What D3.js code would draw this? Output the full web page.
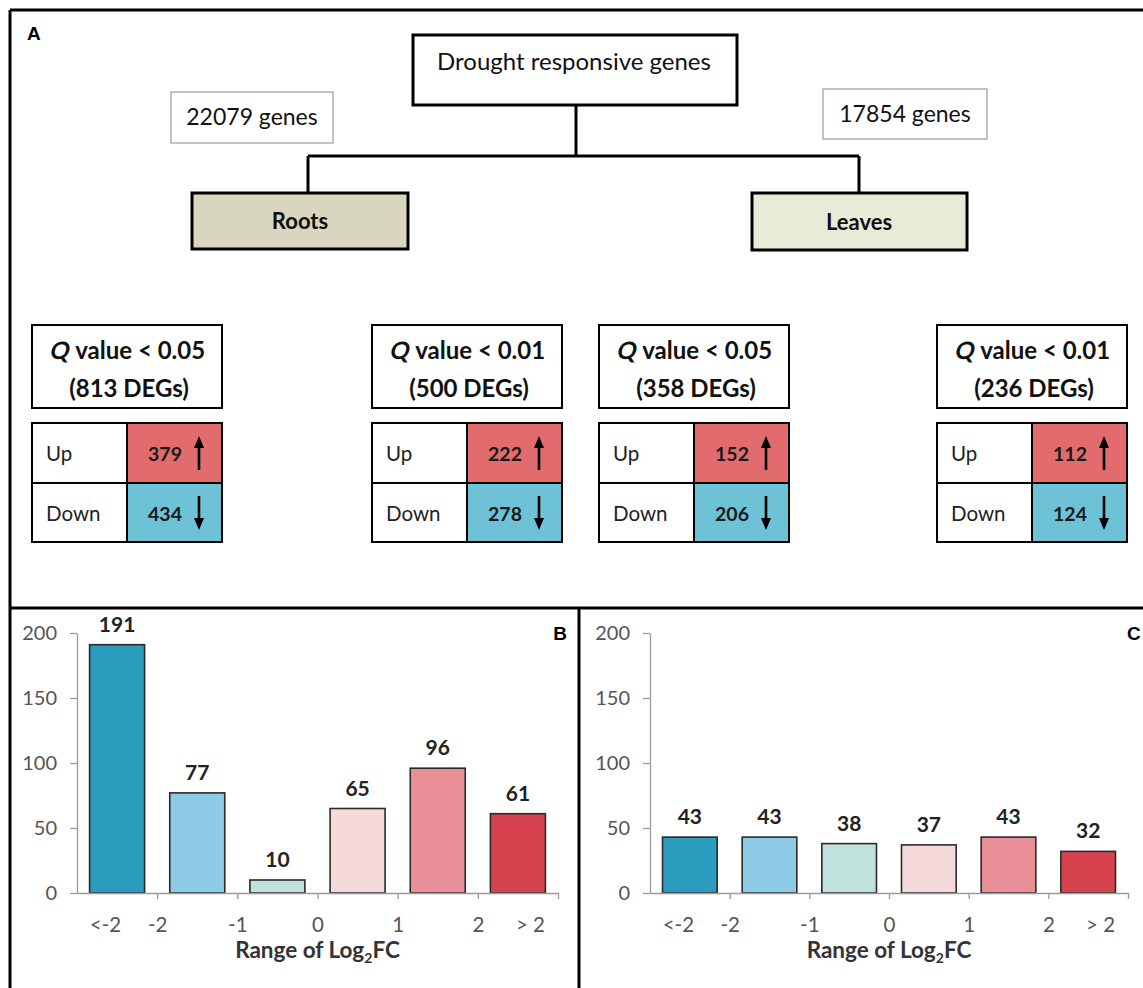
<!DOCTYPE html>
<html>
<head>
<meta charset="utf-8">
<script src="https://cdn.jsdelivr.net/npm/d3@7"></script>
<style>
  html, body { margin: 0; padding: 0; background: #fff; }
  svg { display: block; font-family: Lato, "Open Sans", sans-serif; }
</style>
</head>
<body>
<script>
// ---------------- DATA ----------------
const rootGenes = "22079 genes";
const leafGenes = "17854 genes";
const rootLabel = "Roots";
const leafLabel = "Leaves";
const topLabel = "Drought responsive genes";

const qThresholds = ["0.05", "0.01", "0.05", "0.01"];
const degTotals = [813, 500, 358, 236];
const upCounts = [379, 222, 152, 112];
const downCounts = [434, 278, 206, 124];

const binCategories = ["<-2", "-2~-1", "-1~0", "0~1", "1~2", ">2"];
const rootBinCounts = [191, 77, 10, 65, 96, 61];
const leafBinCounts = [43, 43, 38, 37, 43, 32];
const yTickValues = [0, 50, 100, 150, 200];
const xBoundaryTicks = [-2, -1, 0, 1, 2, 3];
const xTickLabels = ["<-2", "-2", "-1", "0", "1", "2", "> 2"];
const xTickLabelPos = [-2.65, -2, -1, 0, 1, 2, 2.65];
const binColors = ["#2b9cbe", "#8ecbe6", "#c0e2dd", "#f6d9da", "#e98f98", "#d6434f"];

// ---------------- LAYOUT ----------------
const W = 1143, H = 988;
const svg = d3.select("body").append("svg").attr("width", W).attr("height", H);

// frame
const frame = d3.path();
frame.moveTo(10, 10); frame.lineTo(1170, 10);
frame.moveTo(10, 10); frame.lineTo(10, 1010);
frame.moveTo(10, 608); frame.lineTo(1170, 608);
frame.moveTo(579, 608); frame.lineTo(579, 1010);
svg.append("path").attr("d", frame.toString()).attr("stroke", "#000").attr("stroke-width", 3).attr("fill", "none");

const letter = (t, x, y, anchor) => svg.append("text").attr("x", x).attr("y", y)
  .attr("text-anchor", anchor || "start")
  .style("font-family", "'Liberation Sans', Arial, sans-serif").style("font-weight", "bold")
  .style("font-size", "19px").attr("fill", "#000").text(t);
letter("A", 27, 40);

// ---------------- TREE ----------------
const tree = svg.append("g");
const conn = d3.path();
conn.moveTo(576, 105); conn.lineTo(576, 156);
conn.moveTo(308, 156); conn.lineTo(859, 156);
conn.moveTo(308, 156); conn.lineTo(308, 194);
conn.moveTo(859, 156); conn.lineTo(859, 194);
tree.append("path").attr("d", conn.toString()).attr("stroke", "#000").attr("stroke-width", 3).attr("fill", "none");

tree.append("rect").attr("x", 413).attr("y", 35).attr("width", 324).attr("height", 70)
  .attr("fill", "#fff").attr("stroke", "#000").attr("stroke-width", 3);
tree.append("text").attr("x", 574).attr("y", 70).attr("text-anchor", "middle")
  .style("font-size", "24px").attr("fill", "#111").text(topLabel);

tree.append("rect").attr("x", 171).attr("y", 92).attr("width", 162).attr("height", 51)
  .attr("fill", "#fff").attr("stroke", "#888").attr("stroke-width", 1);
tree.append("text").attr("x", 252).attr("y", 125).attr("text-anchor", "middle")
  .style("font-size", "23px").attr("fill", "#111").text(rootGenes);

tree.append("rect").attr("x", 823).attr("y", 89).attr("width", 164).attr("height", 50)
  .attr("fill", "#fff").attr("stroke", "#888").attr("stroke-width", 1);
tree.append("text").attr("x", 905).attr("y", 122).attr("text-anchor", "middle")
  .style("font-size", "23px").attr("fill", "#111").text(leafGenes);

tree.append("rect").attr("x", 192).attr("y", 193).attr("width", 216).attr("height", 56)
  .attr("fill", "#d9d6bf").attr("stroke", "#000").attr("stroke-width", 3);
tree.append("text").attr("x", 300).attr("y", 229).attr("text-anchor", "middle")
  .style("font-size", "22px").style("font-weight", "bold").attr("fill", "#111").text(rootLabel);

tree.append("rect").attr("x", 752).attr("y", 193).attr("width", 215).attr("height", 57)
  .attr("fill", "#e8ebd7").attr("stroke", "#000").attr("stroke-width", 3);
tree.append("text").attr("x", 859).attr("y", 230).attr("text-anchor", "middle")
  .style("font-size", "22px").style("font-weight", "bold").attr("fill", "#111").text(leafLabel);

// ---------------- Q PANELS ----------------
const qX = d3.scaleOrdinal().domain(d3.range(4)).range([32, 372, 599, 937]);
const boxW = 190, colW = 95;
degTotals.forEach((tot, i) => {
  const x = qX(i);
  const g = svg.append("g");
  g.append("rect").attr("x", x).attr("y", 325).attr("width", boxW).attr("height", 83)
    .attr("fill", "#fff").attr("stroke", "#000").attr("stroke-width", 2);
  // line 1: italic Q + rest, centred as a group
  const line1 = g.append("g");
  const qT = line1.append("text").attr("x", 0).attr("y", 0)
    .style("font-size", "24px").style("font-weight", "bold").attr("fill", "#111")
    .attr("transform", "skewX(-13)").text("Q");
  const qW = qT.node().getComputedTextLength();
  const gap = 7;
  const rest = line1.append("text").attr("x", qW + gap).attr("y", 0)
    .style("font-size", "24px").style("font-weight", "bold").attr("fill", "#111")
    .text("value < " + qThresholds[i]);
  const totalW = qW + gap + rest.node().getComputedTextLength();
  line1.attr("transform", `translate(${x + boxW / 2 - totalW / 2},359)`);
  g.append("text").attr("x", x + boxW / 2 + 2).attr("y", 397).attr("text-anchor", "middle")
    .style("font-size", "24px").style("font-weight", "bold").attr("fill", "#111")
    .text("(" + tot + " DEGs)");

  const rows = [
    { label: "Up", val: upCounts[i], fill: "#e26b6d", y: 423, h: 60, up: true },
    { label: "Down", val: downCounts[i], fill: "#6ec2d6", y: 483, h: 59, up: false }
  ];
  rows.forEach(r => {
    g.append("rect").attr("x", x).attr("y", r.y).attr("width", colW).attr("height", r.h)
      .attr("fill", "#fff").attr("stroke", "#000").attr("stroke-width", 2);
    g.append("rect").attr("x", x + colW).attr("y", r.y).attr("width", colW).attr("height", r.h)
      .attr("fill", r.fill).attr("stroke", "#000").attr("stroke-width", 2);
    g.append("text").attr("x", x + 14).attr("y", r.y + 38)
      .style("font-size", "20.5px").attr("fill", "#222").text(r.label);
    g.append("text").attr("x", x + colW + 38).attr("y", r.y + 38).attr("text-anchor", "middle")
      .style("font-size", "19.5px").style("font-weight", "bold").attr("fill", "#1a1a1a").text(r.val);
    const ax = x + colW + 72;
    if (r.up) {
      g.append("line").attr("x1", ax).attr("x2", ax).attr("y1", r.y + 47).attr("y2", r.y + 22)
        .attr("stroke", "#000").attr("stroke-width", 2.6);
      g.append("path").attr("d", `M${ax - 5},${r.y + 25}L${ax + 5},${r.y + 25}L${ax},${r.y + 13}Z`).attr("fill", "#000");
    } else {
      g.append("line").attr("x1", ax).attr("x2", ax).attr("y1", r.y + 13).attr("y2", r.y + 38)
        .attr("stroke", "#000").attr("stroke-width", 2.6);
      g.append("path").attr("d", `M${ax - 5},${r.y + 35}L${ax + 5},${r.y + 35}L${ax},${r.y + 47}Z`).attr("fill", "#000");
    }
  });
});

// ---------------- BAR CHARTS ----------------
function drawChart(x0, x1, counts) {
  const g = svg.append("g");
  const y = d3.scaleLinear().domain([0, 200]).range([893, 633]);
  const xb = d3.scaleBand().domain(binCategories).range([x0, x1]).paddingInner(0.314).paddingOuter(0.157);
  const xl = d3.scaleLinear().domain([-3, 3]).range([x0, x1]);

  const ya = g.append("g").attr("transform", `translate(${x0},0)`)
    .call(d3.axisLeft(y).tickValues(yTickValues).tickSize(7).tickSizeOuter(0).tickPadding(13));
  ya.selectAll("path,line").attr("stroke", "#9a9a9a").attr("stroke-width", 1.3);
  ya.selectAll("text").style("font-family", "Lato, sans-serif").style("font-size", "20px").attr("fill", "#555");

  g.selectAll("rect.bar").data(counts).enter().append("rect").attr("class", "bar")
    .attr("x", (d, i) => xb(binCategories[i])).attr("width", xb.bandwidth())
    .attr("y", d => y(d)).attr("height", d => y(0) - y(d))
    .attr("fill", (d, i) => binColors[i]).attr("stroke", "#2a2a2a").attr("stroke-width", 1.6);

  g.selectAll("text.val").data(counts).enter().append("text").attr("class", "val")
    .attr("x", (d, i) => xb(binCategories[i]) + xb.bandwidth() / 2).attr("y", d => y(d) - 13)
    .attr("text-anchor", "middle").style("font-size", "21px").style("font-weight", "bold")
    .attr("fill", "#222").text(d => d);

  const xa = g.append("g").attr("transform", `translate(0,${y(0)})`)
    .call(d3.axisBottom(xl).tickValues(xBoundaryTicks).tickSize(6).tickSizeOuter(0).tickFormat(""));
  xa.selectAll("path,line").attr("stroke", "#9a9a9a").attr("stroke-width", 1.3);
  const xt = g.append("g").attr("transform", `translate(0,${y(0)})`)
    .call(d3.axisBottom(xl).tickValues(xTickLabelPos).tickSize(0).tickPadding(24)
      .tickFormat((d, i) => xTickLabels[i]));
  xt.select("path.domain").remove();
  xt.selectAll("text").style("font-family", "Lato, sans-serif").style("font-size", "20.5px").attr("fill", "#555");

  const title = g.append("text").attr("x", (x0 + x1) / 2).attr("y", 958).attr("text-anchor", "middle")
    .style("font-size", "22.5px").style("font-weight", "bold").attr("fill", "#333");
  title.append("tspan").text("Range of Log");
  title.append("tspan").attr("dy", 5).style("font-size", "14px").text("2");
  title.append("tspan").attr("dy", -5).text("FC");
}
drawChart(77, 558, rootBinCounts);
drawChart(650, 1128, leafBinCounts);
letter("B", 560, 640, "middle");
letter("C", 1127, 640);
</script>
</body>
</html>
